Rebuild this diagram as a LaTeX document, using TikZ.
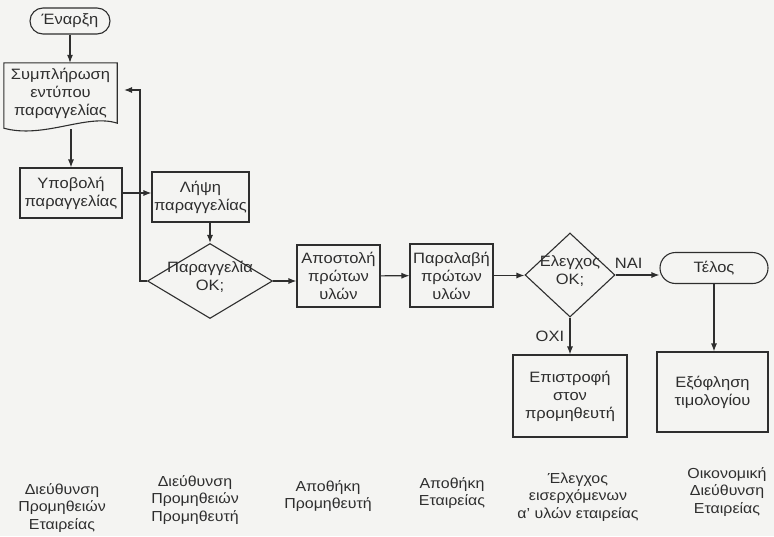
\documentclass[tikz,border=0pt]{standalone}
\usepackage{fontspec}
\setmainfont{Liberation Sans}[FakeStretch=1.1]
\usetikzlibrary{positioning, calc, arrows.meta, shapes.geometric, shapes.misc}

\definecolor{ink}{HTML}{2E2E2E}
\definecolor{paper}{HTML}{F4F4F2}

% text of a decision that may stick out of the diamond
\newcommand{\dectext}[1]{\makebox[0pt]{\smash{\begin{tabular}{@{}c@{}}#1\end{tabular}}}}

\begin{document}
\begin{tikzpicture}[x=1pt, y=-1pt,
    % Define styles for the flowchart shapes
    every node/.style={font=\fontsize{15}{18}\selectfont, text=ink},
    procbox/.style={
        draw=ink,
        line width=1.1pt,
        rectangle,
        align=center,
        inner sep=1pt
    },
    termbox/.style={draw=ink, line width=1.1pt, rounded rectangle, inner sep=0pt},
    decbox/.style={draw=ink, line width=1.1pt, diamond, inner sep=0pt},
    docbox/.style={rectangle, align=center, inner sep=0pt},
    lanelabel/.style={align=center, font=\fontsize{14.5}{17.5}\selectfont},
    flow/.style={draw=ink, line width=1.1pt, ->, >={Latex[length=8pt,width=6pt]}}
]

\fill[paper] (0,0) rectangle (774,536);

% Flowchart nodes
\node[termbox, minimum width=80pt, minimum height=26pt] (start) at (70,21) {Έναρξη};
\node[docbox, minimum width=113pt, minimum height=60pt] (form) at (60.5,93) {Συμπλήρωση\\εντύπου\\παραγγελίας};
\draw[ink, line width=1.1pt] (form.north west) -- (form.north east) -- (form.south east)
    .. controls ([xshift=-30pt,yshift=10pt]form.south east) and ([xshift=40pt,yshift=-16pt]form.south west)
    .. ([yshift=-5pt]form.south west) -- cycle;
\node[procbox, minimum width=102pt, minimum height=50pt] (submit) at (71,193) {Υποβολή\\παραγγελίας};
\node[procbox, minimum width=97pt, minimum height=50pt] (receive) at (200.5,197) {Λήψη\\παραγγελίας};
\node[decbox, minimum width=125pt, minimum height=75pt] (orderok) at (210,281) {\dectext{Παραγγελία\\OK;}};
\node[procbox, minimum width=83pt, minimum height=62pt] (ship) at (338.5,276) {Αποστολή\\πρώτων\\υλών};
\node[procbox, minimum width=83pt, minimum height=63pt] (accept) at (451.5,275.5) {Παραλαβή\\πρώτων\\υλών};
\node[decbox, minimum width=90pt, minimum height=84pt] (checkok) at (570,275) {\dectext{Ελεγχος\\OK;}};
\node[termbox, minimum width=108pt, minimum height=31pt] (finish) at (714,268) {Τέλος};
\node[procbox, minimum width=114pt, minimum height=82pt] (giveback) at (570,396) {Επιστροφή\\στον\\προμηθευτή};
\node[procbox, minimum width=111pt, minimum height=80pt] (payoff) at (712.5,392) {Εξόφληση\\τιμολογίου};

% Departments under the flowchart
\node[lanelabel] (lane1) at (62,508) {Διεύθυνση\\Προμηθειών\\Εταιρείας};
\node[lanelabel] (lane2) at (195,500) {Διεύθυνση\\Προμηθειών\\Προμηθευτή};
\node[lanelabel] (lane3) at (328,496) {Αποθήκη\\Προμηθευτή};
\node[lanelabel] (lane4) at (452,493) {Αποθήκη\\Εταιρείας};
\node[lanelabel] (lane5) at (578,497) {Έλεγχος\\εισερχόμενων\\α' υλών εταιρείας};
\node[lanelabel] (lane6) at (727,492) {Οικονομική\\Διεύθυνση\\Εταιρείας};

% Connectors
\coordinate (backin) at (124,90);
\draw[flow] (start.south) -- (start.south |- form.north);
\draw[flow] ($(submit.north |- form.south)+(0,6)$) -- (submit.north);
\draw[flow] (submit.east) -- (submit.east -| receive.west);
\draw[flow] (orderok.north |- receive.south) -- (orderok.north);
\draw[flow] (orderok.west) -- ++(-7,0) |- (backin); % order not ok, fill in again
\draw[flow] (orderok.east) -- (orderok.east -| ship.west);
\draw[flow] (ship) -- (accept);
\draw[flow] (accept.east) -- (accept.east -| checkok.west);
\draw[flow] (checkok.east) -- (checkok.east -| finish.west) node[pos=0.3, above=3pt] {ΝΑΙ};
\draw[flow] (checkok.south) -- (giveback.north) node[midway, left=2pt] {ΟΧΙ};
\draw[flow] (finish.south) -- (finish.south |- payoff.north);

\end{tikzpicture}
\end{document}
